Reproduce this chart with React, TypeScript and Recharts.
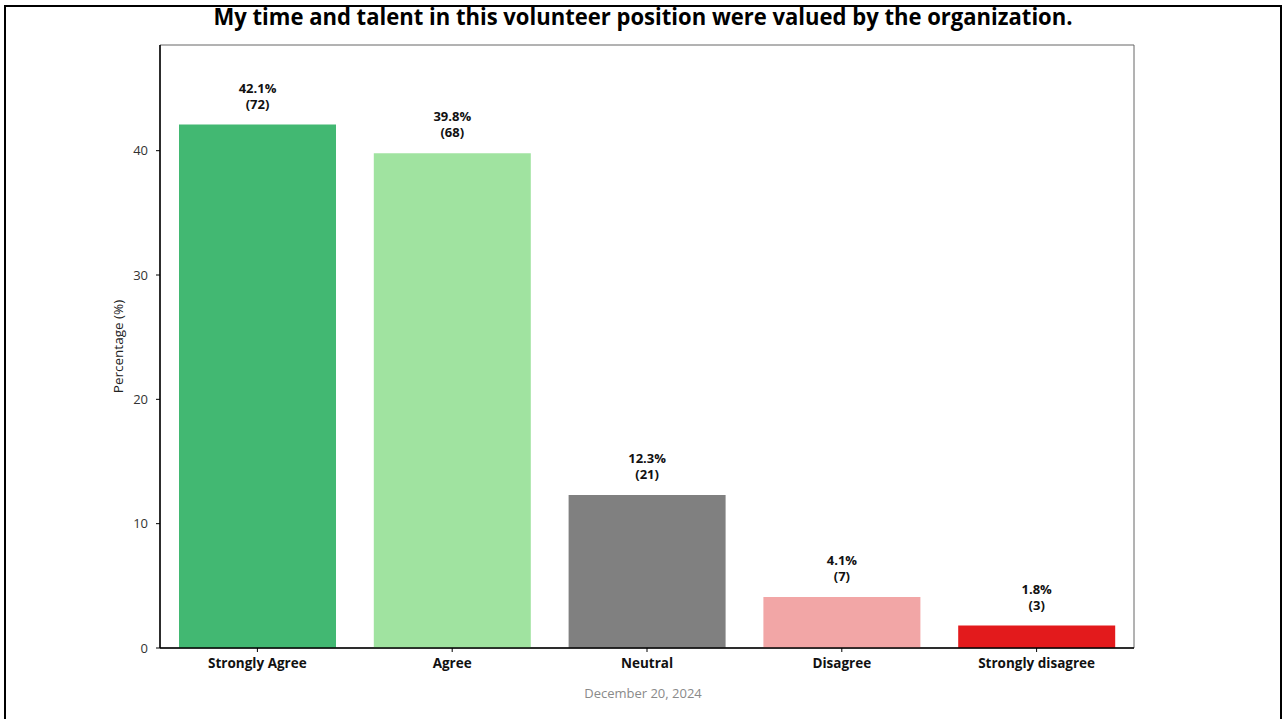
import React from 'react';
import { BarChart, Bar, XAxis, YAxis, Cell, LabelList, ReferenceArea } from 'recharts';

const categories = ['Strongly Agree', 'Agree', 'Neutral', 'Disagree', 'Strongly disagree'];
const percentages = [42.1, 39.8, 12.3, 4.1, 1.8];
const counts = [72, 68, 21, 7, 3];
const barColors = ['#42b872', '#a0e3a0', '#808080', '#f2a6a6', '#e31a1c'];
const yTicks = [0, 10, 20, 30, 40];
const yMax = 48.5;

const titleText = 'My time and talent in this volunteer position were valued by the organization.';
const yAxisTitle = 'Percentage (%)';
const dateText = 'December 20, 2024';

const data = categories.map((c, i) => ({ category: c, pct: percentages[i], count: counts[i] }));

const FONT = '"Open Sans", Lato, sans-serif';

const BarLabel = (props: any) => {
  const { x, y, width, index } = props;
  const cx = x + width / 2;
  const d = data[index];
  return (
    <g>
      <text x={cx} y={y - 32} textAnchor="middle" fontSize={13} fontWeight={700} fill="#111" fontFamily={FONT}>
        {`${d.pct.toFixed(1)}%`}
      </text>
      <text x={cx} y={y - 16} textAnchor="middle" fontSize={13} fontWeight={700} fill="#111" fontFamily={FONT}>
        {`(${d.count})`}
      </text>
    </g>
  );
};

const XTick = (props: any) => {
  const { x, y, payload } = props;
  return (
    <text x={x} y={y} dy={14} textAnchor="middle" fontSize={13.5} fontWeight={700} fill="#111" fontFamily={FONT}>
      {payload.value}
    </text>
  );
};

export default function App() {
  return (
    <div style={{ position: 'absolute', left: 0, top: 0, width: 1287, height: 719, background: '#fff', overflow: 'hidden' }}>
      <div
        style={{
          position: 'absolute',
          left: 4,
          top: 5,
          width: 1278,
          height: 730,
          boxSizing: 'border-box',
          borderLeft: '2px solid #000',
          borderTop: '2px solid #000',
          borderRight: '2px solid #000',
        }}
      />
      <BarChart
        width={1287}
        height={719}
        data={data}
        margin={{ top: 45, right: 153, left: 100, bottom: 41 }}
      >
        <text x={643} y={25} textAnchor="middle" fontSize={23} fontWeight={700} fill="#000" fontFamily={FONT}
          textLength={859} lengthAdjust="spacingAndGlyphs">
          {titleText}
        </text>
        <text x={643} y={698} textAnchor="middle" fontSize={13} fill="#8a8a8a" fontFamily={FONT}>
          {dateText}
        </text>
        <ReferenceArea y1={0} y2={yMax} fill="none" stroke="#666" strokeWidth={1} ifOverflow="visible" />
        <XAxis
          dataKey="category"
          height={30}
          tickSize={4}
          tickMargin={2}
          tick={<XTick />}
          axisLine={{ stroke: '#000', strokeWidth: 1.5 }}
          tickLine={{ stroke: '#000' }}
          interval={0}
        />
        <YAxis
          width={60}
          domain={[0, yMax]}
          ticks={yTicks}
          tickSize={4}
          tickMargin={8}
          allowDataOverflow
          tick={{ fontSize: 13, fill: '#333', fontFamily: FONT }}
          axisLine={{ stroke: '#000', strokeWidth: 1.5 }}
          tickLine={{ stroke: '#000' }}
          label={{ value: yAxisTitle, angle: -90, position: 'center', dx: -12, fontSize: 13.5, fill: '#222', fontFamily: FONT }}
        />
        <Bar dataKey="pct" barSize={157} isAnimationActive={false}>
          {data.map((d, i) => (
            <Cell key={d.category} fill={barColors[i]} />
          ))}
          <LabelList dataKey="pct" content={<BarLabel />} />
        </Bar>
      </BarChart>
    </div>
  );
}
